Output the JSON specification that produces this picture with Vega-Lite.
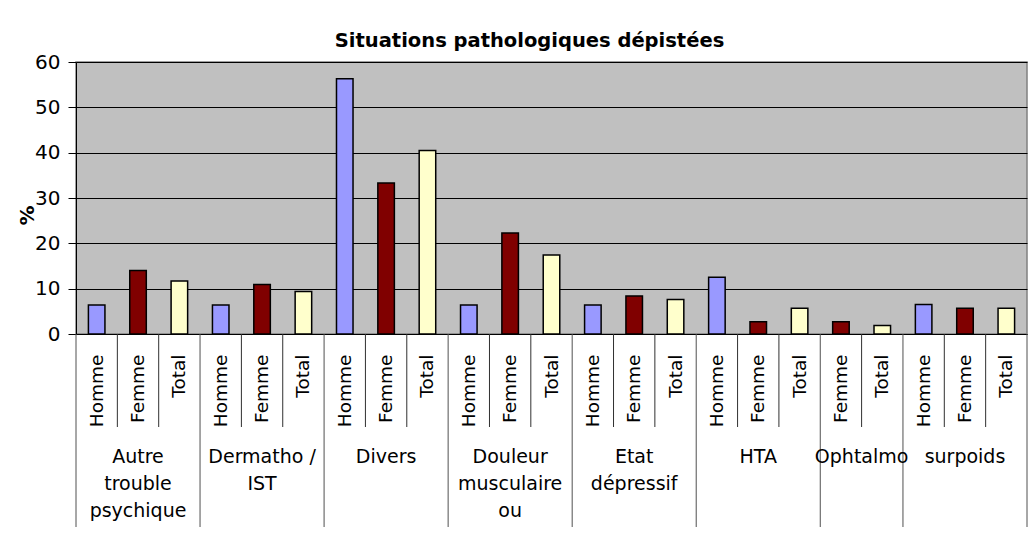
{
  "$schema": "https://vega.github.io/schema/vega-lite/v6.json",
  "autosize": {"type": "none"},
  "width": 951,
  "height": 272,
  "padding": {"left": 76, "top": 62, "right": 4, "bottom": 209},
  "background": "white",
  "config": {
    "font": "DejaVu Sans",
    "view": {"fill": "#C0C0C0", "stroke": "#808080", "strokeWidth": 1.5}
  },
  "title": {
    "text": "Situations pathologiques dépistées",
    "font": "DejaVu Sans",
    "fontSize": 19.5,
    "fontWeight": "bold",
    "color": "#000000",
    "anchor": "middle",
    "frame": "group",
    "dx": -22,
    "offset": 1
  },
  "data": {
    "values": [
      {"cat": "Autre trouble psychique#Homme", "group": "Autre|trouble|psychique", "sub": "Homme", "value": 6.4},
      {"cat": "Autre trouble psychique#Femme", "group": "Autre|trouble|psychique", "sub": "Femme", "value": 14.0},
      {"cat": "Autre trouble psychique#Total", "group": "Autre|trouble|psychique", "sub": "Total", "value": 11.7},
      {"cat": "Dermatho / IST#Homme", "group": "Dermatho /|IST", "sub": "Homme", "value": 6.4},
      {"cat": "Dermatho / IST#Femme", "group": "Dermatho /|IST", "sub": "Femme", "value": 10.9},
      {"cat": "Dermatho / IST#Total", "group": "Dermatho /|IST", "sub": "Total", "value": 9.4},
      {"cat": "Divers#Homme", "group": "Divers", "sub": "Homme", "value": 56.3},
      {"cat": "Divers#Femme", "group": "Divers", "sub": "Femme", "value": 33.3},
      {"cat": "Divers#Total", "group": "Divers", "sub": "Total", "value": 40.5},
      {"cat": "Douleur musculaire ou#Homme", "group": "Douleur|musculaire|ou", "sub": "Homme", "value": 6.4},
      {"cat": "Douleur musculaire ou#Femme", "group": "Douleur|musculaire|ou", "sub": "Femme", "value": 22.3},
      {"cat": "Douleur musculaire ou#Total", "group": "Douleur|musculaire|ou", "sub": "Total", "value": 17.4},
      {"cat": "Etat dépressif#Homme", "group": "Etat|dépressif", "sub": "Homme", "value": 6.4},
      {"cat": "Etat dépressif#Femme", "group": "Etat|dépressif", "sub": "Femme", "value": 8.4},
      {"cat": "Etat dépressif#Total", "group": "Etat|dépressif", "sub": "Total", "value": 7.6},
      {"cat": "HTA#Homme", "group": "HTA", "sub": "Homme", "value": 12.5},
      {"cat": "HTA#Femme", "group": "HTA", "sub": "Femme", "value": 2.7},
      {"cat": "HTA#Total", "group": "HTA", "sub": "Total", "value": 5.7},
      {"cat": "Ophtalmo#Femme", "group": "Ophtalmo", "sub": "Femme", "value": 2.7},
      {"cat": "Ophtalmo#Total", "group": "Ophtalmo", "sub": "Total", "value": 1.9},
      {"cat": "surpoids#Homme", "group": "surpoids", "sub": "Homme", "value": 6.5},
      {"cat": "surpoids#Femme", "group": "surpoids", "sub": "Femme", "value": 5.7},
      {"cat": "surpoids#Total", "group": "surpoids", "sub": "Total", "value": 5.7}
    ]
  },
  "encoding": {
    "x": {
      "field": "cat",
      "type": "nominal",
      "sort": null,
      "scale": {"paddingInner": 0, "paddingOuter": 0},
      "axis": {
        "title": null,
        "ticks": false,
        "domainColor": "#000000",
        "domainWidth": 1,
        "labelExpr": "split(datum.value, '#')[1]",
        "labelAngle": -90,
        "labelAlign": "right",
        "labelBaseline": "middle",
        "labelPadding": 20,
        "labelFont": "DejaVu Sans",
        "labelFontSize": 18.5,
        "labelColor": "#000000",
        "labelLimit": 200
      }
    }
  },
  "layer": [
    {
      "mark": {"type": "bar", "width": {"band": 0.4}, "stroke": "#000000", "strokeWidth": 1.5},
      "encoding": {
        "y": {
          "field": "value",
          "type": "quantitative",
          "scale": {"domain": [0, 60], "nice": false, "zero": true},
          "axis": {
            "title": "%",
            "titleFont": "DejaVu Sans",
            "titleFontSize": 20,
            "titleFontWeight": "bold",
            "titleColor": "#000000",
            "titleX": -49,
            "titleY": 153,
            "titleAlign": "center",
            "titleBaseline": "middle",
            "values": [0, 10, 20, 30, 40, 50, 60],
            "grid": true,
            "gridColor": "#000000",
            "gridWidth": 1,
            "gridOpacity": 1,
            "domainColor": "#000000",
            "domainWidth": 1,
            "tickColor": "#000000",
            "tickSize": 8,
            "labelFont": "DejaVu Sans",
            "labelFontSize": 20,
            "labelColor": "#000000",
            "labelPadding": 8
          }
        },
        "color": {
          "field": "sub",
          "type": "nominal",
          "scale": {"domain": ["Homme", "Femme", "Total"], "range": ["#9999FF", "#800000", "#FFFFCC"]},
          "legend": null
        }
      }
    },
    {
      "transform": [{"filter": "!(datum.sub == 'Homme' || (datum.group == 'Ophtalmo' && datum.sub == 'Femme'))"}],
      "mark": {"type": "rule", "color": "#303030", "strokeWidth": 1, "y2Offset": 93},
      "encoding": {
        "x": {"field": "cat", "type": "nominal", "sort": null, "bandPosition": 0},
        "y": {"datum": 0, "type": "quantitative"},
        "y2": {"datum": 0}
      }
    },
    {
      "transform": [{"filter": "datum.sub == 'Homme' || (datum.group == 'Ophtalmo' && datum.sub == 'Femme')"}],
      "mark": {"type": "rule", "color": "#505050", "strokeWidth": 1, "y2Offset": 193},
      "encoding": {
        "x": {"field": "cat", "type": "nominal", "sort": null, "bandPosition": 0},
        "y": {"datum": 0, "type": "quantitative"},
        "y2": {"datum": 0}
      }
    },
    {
      "transform": [{"filter": "datum.cat == 'surpoids#Total'"}],
      "mark": {"type": "rule", "color": "#505050", "strokeWidth": 1, "y2Offset": 193},
      "encoding": {
        "x": {"field": "cat", "type": "nominal", "sort": null, "bandPosition": 1},
        "y": {"datum": 0, "type": "quantitative"},
        "y2": {"datum": 0}
      }
    },
    {
      "transform": [{"filter": "datum.sub == 'Femme' && datum.group != 'Ophtalmo'"}],
      "mark": {"type": "text", "font": "DejaVu Sans", "fontSize": 19, "color": "#000000", "lineBreak": "|", "lineHeight": 27, "baseline": "alphabetic", "align": "center", "yOffset": 129},
      "encoding": {
        "x": {"field": "cat", "type": "nominal", "sort": null, "bandPosition": 0.5},
        "y": {"datum": 0, "type": "quantitative"},
        "text": {"field": "group"}
      }
    },
    {
      "transform": [{"filter": "datum.group == 'Ophtalmo' && datum.sub == 'Total'"}],
      "mark": {"type": "text", "font": "DejaVu Sans", "fontSize": 19, "color": "#000000", "lineBreak": "|", "lineHeight": 27, "baseline": "alphabetic", "align": "center", "yOffset": 129},
      "encoding": {
        "x": {"field": "cat", "type": "nominal", "sort": null, "bandPosition": 0},
        "y": {"datum": 0, "type": "quantitative"},
        "text": {"field": "group"}
      }
    }
  ]
}
